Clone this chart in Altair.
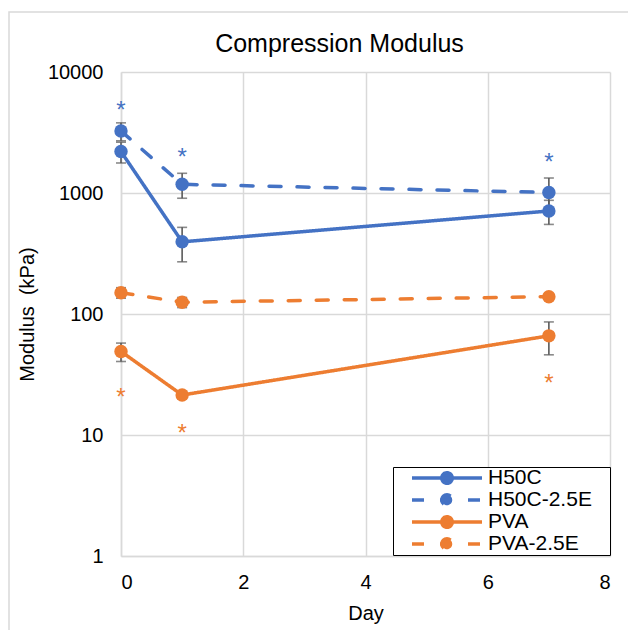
import altair as alt
import pandas as pd

# ---------------- data ----------------
days = [0, 1, 7]
series_names = ["H50C", "H50C-2.5E", "PVA", "PVA-2.5E"]
h50c = [2200, 395, 710]
h50c_err = [430, 125, 160]
h50c_e = [3250, 1180, 1010]
h50c_e_err = [550, 275, 320]
pva = [49, 21.4, 66]
pva_err = [8.5, 1.5, 20]
pva_e = [150, 125, 139]
pva_e_err = [15, 12, 8]
star_blue = [5300, 2180, 1985]
star_orange = [22.6, 11.4, 29.6]
x_ticks = [0, 2, 4, 6, 8]
y_ticks = [1, 10, 100, 1000, 10000]

BLUE = "#4472C4"
ORANGE = "#ED7D31"
colors = [BLUE, BLUE, ORANGE, ORANGE]
dashes = [[1, 0], [12, 16], [1, 0], [12, 16]]
FONT = "Liberation Sans"

vals = [h50c, h50c_e, pva, pva_e]
errs = [h50c_err, h50c_e_err, pva_err, pva_e_err]
rows = []
for name, v, e in zip(series_names, vals, errs):
    for d, vv, ee in zip(days, v, e):
        rows.append({"series": name, "day": d, "value": vv,
                     "low": vv - ee, "high": vv + ee})
df = pd.DataFrame(rows)

stars = pd.DataFrame({
    "day": days + days,
    "value": star_blue + star_orange,
    "grp": ["b"] * 3 + ["o"] * 3,
})

x_enc = alt.X("day:Q", scale=alt.Scale(domain=[0, 8], nice=False, zero=False),
              axis=alt.Axis(values=x_ticks, title="Day", grid=True,
                            labelPadding=16, titlePadding=11))
y_scale = alt.Scale(type="log", domain=[1, 10000], nice=False)
y_enc = alt.Y("value:Q", scale=y_scale,
              axis=alt.Axis(values=y_ticks, format="d",
                            title="Modulus\u00a0 (kPa)",
                            labelPadding=18, titlePadding=10))

LEG_PATH = ("M-1,0H1M-0.15,0A0.15,0.15,0,1,1,0.15,0"
            "A0.15,0.15,0,1,1,-0.15,0Z")
leg = alt.Legend(
    title=None, orient="none", legendX=272, legendY=395,
    symbolType=LEG_PATH, symbolSize=4900, symbolStrokeWidth=3.5,
    clipHeight=22, rowPadding=0, padding=0, symbolOffset=17, labelOffset=4,
    labelFontSize=21, labelFont=FONT, labelColor="black",
    strokeColor="black", fillColor="white",
    labelExpr="datum.label + '\u00a0\u00a0\u00a0\u200b'",
    symbolFillColor={"expr": "indexof(datum.value, 'PVA') >= 0 ? '%s' : '%s'" % (ORANGE, BLUE)},
)
color_scale = alt.Scale(domain=series_names, range=colors)
dash_scale = alt.Scale(domain=series_names, range=dashes)

base = alt.Chart(df)

frame = alt.Chart(pd.DataFrame({"a": [0]})).mark_rect(
    fill=None, stroke="#d9d9d9", strokeWidth=1.5
).encode(x=alt.value(-112), x2=alt.value(620), y=alt.value(-60), y2=alt.value(620))

err_rule = base.mark_rule(color="#595959", strokeWidth=1.6).encode(
    x=x_enc, y=alt.Y("low:Q", scale=y_scale), y2="high:Q")
err_caps = base.transform_fold(["low", "high"], as_=["k", "v"]).mark_tick(
    orient="horizontal", size=10, thickness=1.6, color="#595959"
).encode(x=x_enc, y=alt.Y("v:Q", scale=y_scale))

lines = base.mark_line(strokeWidth=3.5, strokeCap="round").encode(
    x=x_enc, y=y_enc,
    color=alt.Color("series:N", scale=color_scale, legend=leg),
    strokeDash=alt.StrokeDash("series:N", scale=dash_scale, legend=leg),
)
points = base.mark_circle(size=180, opacity=1).encode(
    x=x_enc, y=y_enc,
    color=alt.Color("series:N", scale=color_scale, legend=None),
)

star_b = alt.Chart(stars).transform_filter("datum.grp == 'b'").mark_text(
    text="*", fontSize=24, font=FONT, color=BLUE, baseline="alphabetic", dy=13
).encode(x=x_enc, y=alt.Y("value:Q", scale=y_scale))
star_o = alt.Chart(stars).transform_filter("datum.grp == 'o'").mark_text(
    text="*", fontSize=24, font=FONT, color=ORANGE, baseline="alphabetic", dy=13
).encode(x=x_enc, y=alt.Y("value:Q", scale=y_scale))

chart = alt.layer(frame, err_rule, err_caps, lines, points, star_b, star_o).properties(
    width=489, height=484,
    title=alt.Title("Compression Modulus", fontSize=25, font=FONT,
                    fontWeight="normal", color="black", dx=-26, offset=-46),
    autosize=alt.AutoSizeParams(type="none"),
    padding={"left": 121, "top": 72, "right": 18, "bottom": 74},
    background="white",
).configure_view(stroke=None).configure_axis(
    domainColor="#d9d9d9", domainWidth=1.5, gridColor="#d9d9d9", gridWidth=1.5,
    ticks=False, labelFont=FONT, labelFontSize=20, labelColor="black",
    titleFont=FONT, titleFontSize=20, titleFontWeight="normal", titleColor="black",
)

chart.save("out.html", embed_options={"renderer": "svg", "actions": False})
